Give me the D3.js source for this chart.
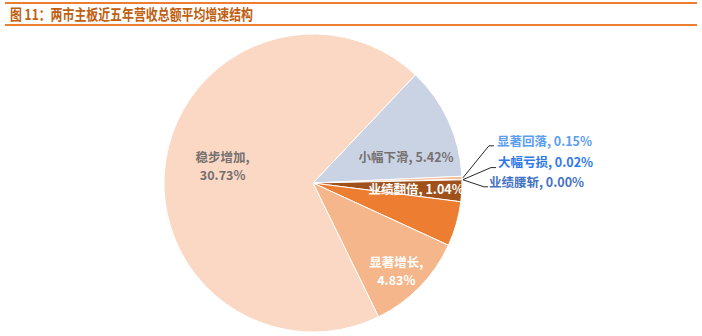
<!DOCTYPE html>
<html>
<head>
<meta charset="utf-8">
<script src="https://cdn.jsdelivr.net/npm/d3@7/dist/d3.min.js"></script>
<style>
  html, body { margin: 0; padding: 0; background: #fff; }
  svg { display: block; }
  text { font-family: "Noto Sans CJK SC", "Noto Sans", sans-serif; }
</style>
</head>
<body>
<svg id="chart" width="702" height="336"></svg>
<script>
// Revenue growth structure, main boards of both exchanges (five-year average)
const categories = ["小幅下滑", "显著回落", "大幅亏损", "业绩腰斩", "业绩翻倍", "大幅增长", "显著增长", "稳步增加"];
const values = [5.42, 0.15, 0.02, 0.00, 1.04, 2.15, 4.83, 30.73];
const showLabel = [true, true, true, true, true, false, true, true];
const colors = ["#CAD3E4", "#F6BE98", "#F4B183", "#F8CBAD", "#A0511B", "#ED7D31", "#F4B68A", "#FBD8C3"];

const title = "图 11：两市主板近五年营收总额平均增速结构";

const svg = d3.select("#chart");

// Header rules and title
svg.append("line").attr("x1", 5).attr("x2", 697).attr("y1", 3).attr("y2", 3)
  .attr("stroke", "#ED7D31").attr("stroke-width", 2);
svg.append("line").attr("x1", 5).attr("x2", 697).attr("y1", 25).attr("y2", 25)
  .attr("stroke", "#ED7D31").attr("stroke-width", 2);
svg.append("text")
  .attr("x", 10).attr("y", 20)
  .attr("font-size", 15).attr("font-weight", 700)
  .attr("fill", "#C0600F")
  .attr("textLength", 243).attr("lengthAdjust", "spacingAndGlyphs")
  .text(title);

// Pie
const cx = 313, cy = 183, R = 149;
const start = 43.4 * Math.PI / 180;
const data = categories.map((c, i) => ({ name: c, value: values[i], color: colors[i], show: showLabel[i] }));

const pie = d3.pie().value(d => d.value).sort(null)
  .startAngle(start).endAngle(start + 2 * Math.PI);
const arcs = pie(data);
const arc = d3.arc().innerRadius(0).outerRadius(R);

const g = svg.append("g").attr("transform", `translate(${cx},${cy})`);
g.selectAll("path.slice").data(arcs).join("path")
  .attr("class", "slice")
  .attr("d", arc)
  .attr("fill", d => d.data.color)
  .attr("stroke", "#fff")
  .attr("stroke-width", 1);

const fmt = v => v.toFixed(2) + "%";
const polar = (a, r) => [Math.sin(a) * r, -Math.cos(a) * r];
const mid = d => (d.startAngle + d.endAngle) / 2;

// Inside labels: radius factor and nudge per slice
const inside = {
  "小幅下滑": { k: 0.65, dx: 5, dy: 15, fill: "#767171", lines: 1 },
  "业绩翻倍": { k: 0.70, dx: -1, dy: 1, fill: "#ffffff", lines: 1 },
  "显著增长": { k: 0.80, dx: -2, dy: 5, fill: "#ffffff", lines: 2 },
  "稳步增加": { k: 0.60, dx: -2, dy: -3, fill: "#767171", lines: 2 }
};

const labelText = (x, y, fill, str) => g.append("text")
  .attr("x", x).attr("y", y).attr("dy", "0.35em")
  .attr("text-anchor", "middle")
  .attr("font-size", 12.5).attr("font-weight", 700)
  .attr("fill", fill)
  .text(str);

arcs.forEach(d => {
  const cfg = inside[d.data.name];
  if (!cfg || !d.data.show) return;
  const [x, y] = polar(mid(d), R * cfg.k);
  const lx = x + cfg.dx, ly = y + cfg.dy;
  if (cfg.lines === 1) {
    labelText(lx, ly, cfg.fill, `${d.data.name}, ${fmt(d.data.value)}`);
  } else {
    labelText(lx, ly - 9, cfg.fill, `${d.data.name},`);
    labelText(lx, ly + 9, cfg.fill, fmt(d.data.value));
  }
});

// Callout labels for the thin slices
const callouts = {
  "显著回落": { ex: 26, ey: -32, hx: 5, tx: 3, ty: -4, fill: "#5B9EF2" },
  "大幅亏损": { ex: 28, ey: -12, hx: 5, tx: 2, ty: -5, fill: "#2F78EC" },
  "业绩腰斩": { ex: 21, ey: 7, hx: 4, tx: 1, ty: -4, fill: "#4472C4" }
};

arcs.forEach(d => {
  const cfg = callouts[d.data.name];
  if (!cfg || !d.data.show) return;
  const [px, py] = polar(mid(d), R + 1);
  const ex = px + cfg.ex, ey = py + cfg.ey;
  g.append("polyline")
    .attr("points", `${px},${py} ${ex},${ey} ${ex + cfg.hx},${ey}`)
    .attr("fill", "none").attr("stroke", "#262626").attr("stroke-width", 1);
  g.append("text")
    .attr("x", ex + cfg.hx + cfg.tx).attr("y", ey + cfg.ty).attr("dy", "0.35em")
    .attr("font-size", 12.5).attr("font-weight", 700)
    .attr("fill", cfg.fill)
    .text(`${d.data.name}, ${fmt(d.data.value)}`);
});
</script>
</body>
</html>
